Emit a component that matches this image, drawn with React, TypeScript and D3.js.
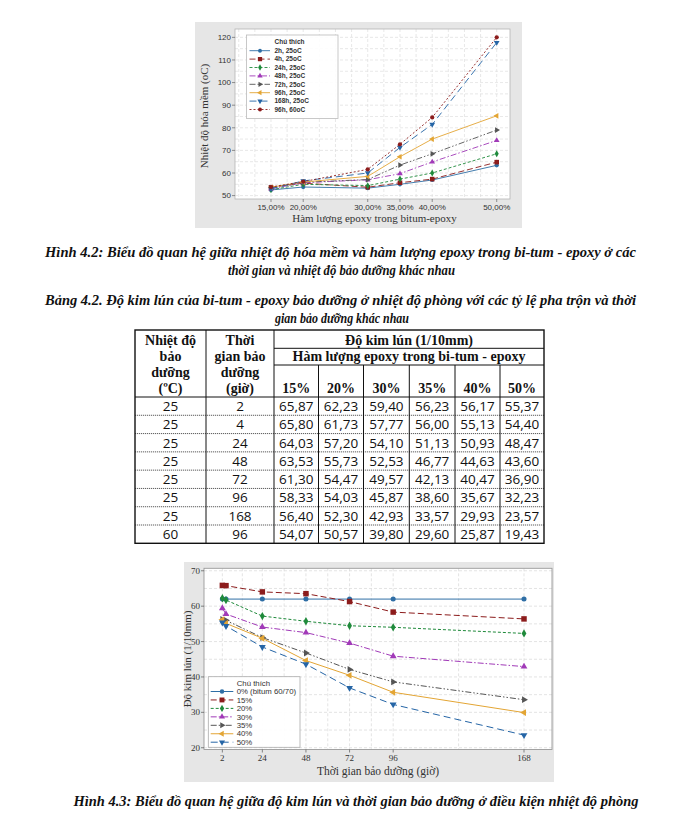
import React from 'react';
import * as d3 from 'd3';

// ---------- Figure 4.2 data (softening point vs epoxy content) ----------
const epoxyPct = [15, 20, 30, 35, 40, 50];
const epoxyTickLabels = ['15,00%', '20,00%', '30,00%', '35,00%', '40,00%', '50,00%'];
const softTicks = [50, 60, 70, 80, 90, 100, 110, 120];
const seriesNames1 = ['2h, 25oC', '4h, 25oC', '24h, 25oC', '48h, 25oC', '72h, 25oC', '96h, 25oC', '168h, 25oC', '96h, 60oC'];
const sp2h = [52.5, 53.8, 53.3, 55.0, 56.9, 63.4];
const sp4h = [53.7, 55.5, 53.7, 55.7, 57.3, 64.8];
const sp24h = [52.6, 55.0, 54.4, 57.3, 60.0, 68.5];
const sp48h = [53.0, 55.7, 57.0, 59.7, 64.9, 74.4];
const sp72h = [53.5, 55.9, 57.1, 63.5, 68.5, 79.0];
const sp96h = [53.7, 56.0, 58.5, 67.2, 75.0, 85.3];
const sp168h = [53.0, 56.5, 60.0, 71.3, 81.5, 117.7];
const sp96h60 = [53.8, 56.2, 61.6, 72.7, 84.6, 120.0];

// ---------- Table 4.2 data (penetration) ----------
const tableTemp = [25, 25, 25, 25, 25, 25, 25, 60];
const tableTime = [2, 4, 24, 48, 72, 96, 168, 96];
const tableHeaders = ['15%', '20%', '30%', '35%', '40%', '50%'];
const pen15 = [65.87, 65.80, 64.03, 63.53, 61.30, 58.33, 56.40, 54.07];
const pen20 = [62.23, 61.73, 57.20, 55.73, 54.47, 54.03, 52.30, 50.57];
const pen30 = [59.40, 57.77, 54.10, 52.53, 49.57, 45.87, 42.93, 39.80];
const pen35 = [56.23, 56.00, 51.13, 46.77, 42.13, 38.60, 33.57, 29.60];
const pen40 = [56.17, 55.13, 50.93, 44.63, 40.47, 35.67, 29.93, 25.87];
const pen50 = [55.37, 54.40, 48.47, 43.60, 36.90, 32.23, 23.57, 19.43];

// ---------- Figure 4.3 data ----------
const pen0 = [62, 62, 62, 62, 62, 62, 62]; // bitum 60/70
const seriesNames2 = ['0% (bitum 60/70)', '15%', '20%', '30%', '35%', '40%', '50%'];
const hourTicks = [2, 24, 48, 72, 96, 168];
const penTicks = [20, 30, 40, 50, 60, 70];

// ---------- texts ----------
const cap1a = 'Hình 4.2: Biểu đồ quan hệ giữa nhiệt độ hóa mềm và hàm lượng epoxy trong bi-tum - epoxy ở các';
const cap1b = 'thời gian và nhiệt độ bảo dưỡng khác nhau';
const tab1a = 'Bảng 4.2. Độ kim lún của bi-tum - epoxy bảo dưỡng ở nhiệt độ phòng với các tỷ lệ pha trộn và thời';
const tab1b = 'gian bảo dưỡng khác nhau';
const cap2 = 'Hình 4.3: Biểu đồ quan hệ giữa độ kim lún và thời gian bảo dưỡng ở điều kiện nhiệt độ phòng';

type Sty = { color: string; dash: string | null; sym: string };
const styles: Sty[] = [
  { color: '#2f6ea5', dash: null, sym: 'circle' },
  { color: '#8c1c1c', dash: '6,3', sym: 'square' },
  { color: '#1f8a3b', dash: '3,2', sym: 'diamond' },
  { color: '#a13ab8', dash: '6,2,1.5,2', sym: 'triUp' },
  { color: '#555555', dash: '6,2,1.5,2,1.5,2', sym: 'triRight' },
  { color: '#e3a534', dash: null, sym: 'triLeft' },
  { color: '#2565a6', dash: '7,4', sym: 'triDown' },
  { color: '#8c1c1c', dash: '2,2', sym: 'circle' },
];

function Marker({ x, y, s, size }: { x: number; y: number; s: Sty; size: number }) {
  const typeMap: any = {
    circle: d3.symbolCircle, square: d3.symbolSquare, diamond: d3.symbolDiamond,
    triUp: d3.symbolTriangle, triRight: d3.symbolTriangle, triLeft: d3.symbolTriangle, triDown: d3.symbolTriangle,
  };
  const rot: any = { triRight: 90, triLeft: -90, triDown: 180 };
  const d = d3.symbol(typeMap[s.sym], s.sym === 'square' ? size * 1.5 : size)() as string;
  return <path d={d} transform={`translate(${x},${y}) rotate(${rot[s.sym] || 0})`} fill={s.color} />;
}

const SANS = '"Liberation Sans", Arial, sans-serif';
const SERIF = '"Liberation Serif", "Times New Roman", serif';

function Chart1() {
  const fx0 = 195, fy0 = 22, fw = 327, fh = 206;
  const L = 235, R = 510, T = 29, B = 199;
  const x = d3.scaleLinear().domain([9.42, 52.06]).range([L, R]);
  const y = d3.scaleLinear().domain([48.5, 123.7]).range([B, T]);
  const series = [sp2h, sp4h, sp24h, sp48h, sp72h, sp96h, sp168h, sp96h60];
  const line = d3.line<number>().x((_, i) => x(epoxyPct[i])).y((v) => y(v));
  const gx = d3.range(10, 52.1, 2.5);
  const gy = d3.range(50, 123, 5);
  return (
    <g>
      <rect x={fx0} y={fy0} width={fw} height={fh} fill="#e6e6e6" />
      <rect x={L} y={T} width={R - L} height={B - T} fill="#fff" />
      {gx.map((v) => (
        <line key={'gx' + v} x1={x(v)} x2={x(v)} y1={T} y2={B} stroke="#dedede" strokeWidth={0.7} strokeDasharray="3,2" />
      ))}
      {gy.map((v) => (
        <line key={'gy' + v} x1={L} x2={R} y1={y(v)} y2={y(v)} stroke="#dedede" strokeWidth={0.7} strokeDasharray="3,2" />
      ))}
      <rect x={L} y={T} width={R - L} height={B - T} fill="none" stroke="#b5b5b5" strokeWidth={0.8} />
      {softTicks.map((v) => (
        <g key={'yt' + v}>
          <line x1={L - 3} x2={L} y1={y(v)} y2={y(v)} stroke="#666" strokeWidth={0.7} />
          <text x={L - 4} y={y(v)} dy="0.35em" textAnchor="end" fontFamily={SANS} fontSize={8} fill="#333">{v}</text>
        </g>
      ))}
      {epoxyPct.map((v, i) => (
        <g key={'xt' + v}>
          <line x1={x(v)} x2={x(v)} y1={B} y2={B + 3} stroke="#666" strokeWidth={0.7} />
          <text x={x(v)} y={B + 11} textAnchor="middle" fontFamily={SANS} fontSize={8} fill="#333">{epoxyTickLabels[i]}</text>
        </g>
      ))}
      <text x={(L + R) / 2 + 2} y={222} textAnchor="middle" fontFamily={SERIF} fontSize={11} fill="#333">Hàm lượng epoxy trong bitum-epoxy</text>
      <text transform={`translate(208,${(T + B) / 2 + 2}) rotate(-90)`} textAnchor="middle" fontFamily={SERIF} fontSize={11} fill="#333">Nhiệt độ hóa mềm (oC)</text>
      {series.map((s, k) => (
        <g key={'s' + k}>
          <path d={line(s) as string} fill="none" stroke={styles[k].color} strokeWidth={0.9} strokeDasharray={styles[k].dash || undefined} />
          {s.map((v, i) => <Marker key={i} x={x(epoxyPct[i])} y={y(v)} s={styles[k]} size={14} />)}
        </g>
      ))}
      <rect x={246.5} y={35} width={91.5} height={83.5} fill="#fff" fillOpacity={0.9} stroke="#bbb" strokeWidth={0.8} />
      <text x={274.5} y={44} fontFamily={SANS} fontSize={6.5} fontWeight="bold" fill="#333">Chú thích</text>
      {seriesNames1.map((n, k) => {
        const yy = 50.7 + k * 8.4;
        return (
          <g key={'lg' + k}>
            <line x1={249.5} x2={270} y1={yy} y2={yy} stroke={styles[k].color} strokeWidth={0.9} strokeDasharray={styles[k].dash || undefined} />
            <Marker x={260} y={yy} s={styles[k]} size={12} />
            <text x={274.5} y={yy} dy="0.35em" fontFamily={SANS} fontSize={6.5} fontWeight="bold" fill="#333">{n}</text>
          </g>
        );
      })}
    </g>
  );
}

function fmt(v: number) {
  return d3.format('.2f')(v).replace('.', ',');
}

function Table() {
  const colX = [135, 206, 274, 318.5, 363.5, 409.3, 455, 500, 544];
  const top = 330, r1 = 348.3, r2 = 365, hb = 397;
  const rowH = (543.3 - hb) / tableTime.length;
  const cols = [pen15, pen20, pen30, pen35, pen40, pen50];
  const hdr1 = ['Nhiệt độ', 'bảo', 'dưỡng', '(ºC)'];
  const hdr2 = ['Thời', 'gian bảo', 'dưỡng', '(giờ)'];
  const hy = [340.5, 356.5, 372.5, 388.5];
  const bottom = hb + rowH * tableTime.length;
  const DATA = '"Open Sans", sans-serif';
  return (
    <g>
      {hdr1.map((t, i) => (
        <text key={'h1' + i} x={(colX[0] + colX[1]) / 2} y={hy[i]} dy="0.35em" textAnchor="middle" fontFamily={SERIF} fontWeight="bold" fontSize={14} fill="#111">{t}</text>
      ))}
      {hdr2.map((t, i) => (
        <text key={'h2' + i} x={(colX[1] + colX[2]) / 2} y={hy[i]} dy="0.35em" textAnchor="middle" fontFamily={SERIF} fontWeight="bold" fontSize={14} fill="#111">{t}</text>
      ))}
      <text x={(colX[2] + colX[8]) / 2} y={hy[0]} dy="0.35em" textAnchor="middle" fontFamily={SERIF} fontWeight="bold" fontSize={14} fill="#111">Độ kim lún (1/10mm)</text>
      <text x={(colX[2] + colX[8]) / 2} y={hy[1]} dy="0.35em" textAnchor="middle" fontFamily={SERIF} fontWeight="bold" fontSize={14} fill="#111">Hàm lượng epoxy trong bi-tum - epoxy</text>
      {tableHeaders.map((h, i) => (
        <text key={'th' + i} x={(colX[i + 2] + colX[i + 3]) / 2} y={hy[3]} dy="0.35em" textAnchor="middle" fontFamily={SERIF} fontWeight="bold" fontSize={14} fill="#111">{h}</text>
      ))}
      {tableTime.map((t, r) => {
        const cy = hb + rowH * (r + 0.5);
        return (
          <g key={'r' + r}>
            <text x={(colX[0] + colX[1]) / 2} y={cy} dy="0.36em" textAnchor="middle" fontFamily={DATA} fontSize={13.5} fill="#111">{tableTemp[r]}</text>
            <text x={(colX[1] + colX[2]) / 2} y={cy} dy="0.36em" textAnchor="middle" fontFamily={DATA} fontSize={13.5} fill="#111">{t}</text>
            {cols.map((c, j) => (
              <text key={j} x={(colX[j + 2] + colX[j + 3]) / 2} y={cy} dy="0.36em" textAnchor="middle" fontFamily={DATA} fontSize={13.5} fill="#111">{fmt(c[r])}</text>
            ))}
          </g>
        );
      })}
      {d3.range(1, tableTime.length).map((r) => (
        <line key={'hl' + r} x1={colX[0]} x2={colX[8]} y1={hb + rowH * r} y2={hb + rowH * r} stroke="#333" strokeWidth={0.8} strokeDasharray="1.2,0.8" />
      ))}
      <line x1={colX[0]} x2={colX[8]} y1={hb} y2={hb} stroke="#111" strokeWidth={1} />
      <line x1={colX[2]} x2={colX[8]} y1={r1} y2={r1} stroke="#111" strokeWidth={1} />
      <line x1={colX[2]} x2={colX[8]} y1={r2} y2={r2} stroke="#111" strokeWidth={1} />
      {colX.slice(1, 8).map((cx, i) => (
        <line key={'vl' + i} x1={cx} x2={cx} y1={i >= 2 ? r2 : top} y2={bottom} stroke="#111" strokeWidth={1} />
      ))}
      <rect x={colX[0]} y={top} width={colX[8] - colX[0]} height={bottom - top} fill="none" stroke="#111" strokeWidth={1.4} />
    </g>
  );
}

function Chart2() {
  const fx0 = 184, fy0 = 562, fw = 370, fh = 220;
  const L = 204, R = 552, T = 568.3, B = 749.5;
  const x = d3.scaleLinear().domain([-8.1, 183.4]).range([L, R]);
  const y = d3.scaleLinear().domain([19.5, 70.7]).range([B, T]);
  const hours = tableTime.filter((_, i) => tableTemp[i] === 25);
  const pick = (c: number[]) => c.filter((_, i) => tableTemp[i] === 25);
  const series = [pen0, pick(pen15), pick(pen20), pick(pen30), pick(pen35), pick(pen40), pick(pen50)];
  const line = d3.line<number>().x((_, i) => x(hours[i])).y((v) => y(v));
  const minorX = hourTicks.slice(1).map((h, i) => (h + hourTicks[i]) / 2);
  const gy = d3.range(20, 71, 5);
  return (
    <g>
      <rect x={fx0} y={fy0} width={fw} height={fh} fill="#e6e6e6" />
      <rect x={L} y={T} width={R - L} height={B - T} fill="#fff" />
      {[...hourTicks, ...minorX].map((v) => (
        <line key={'gx' + v} x1={x(v)} x2={x(v)} y1={T} y2={B} stroke="#d8d8d8" strokeWidth={0.7} strokeDasharray="3,2" />
      ))}
      {gy.map((v) => (
        <line key={'gy' + v} x1={L} x2={R} y1={y(v)} y2={y(v)} stroke="#d8d8d8" strokeWidth={0.7} strokeDasharray="3,2" />
      ))}
      <rect x={L} y={T} width={R - L} height={B - T} fill="none" stroke="#9a9a9a" strokeWidth={0.9} />
      {penTicks.map((v) => (
        <g key={'yt' + v}>
          <line x1={L - 3} x2={L} y1={y(v)} y2={y(v)} stroke="#555" strokeWidth={0.7} />
          <text x={L - 4} y={y(v)} dy="0.35em" textAnchor="end" fontFamily={SERIF} fontSize={9} fill="#333">{v}</text>
        </g>
      ))}
      {hourTicks.map((v) => (
        <g key={'xt' + v}>
          <line x1={x(v)} x2={x(v)} y1={B} y2={B + 3} stroke="#555" strokeWidth={0.7} />
          <text x={x(v)} y={B + 11} textAnchor="middle" fontFamily={SERIF} fontSize={9} fill="#333">{v}</text>
        </g>
      ))}
      <text x={(L + R) / 2} y={775} textAnchor="middle" fontFamily={SERIF} fontSize={11.5} fill="#333">Thời gian bảo dưỡng (giờ)</text>
      <text transform={`translate(191,${(T + B) / 2}) rotate(-90)`} textAnchor="middle" fontFamily={SERIF} fontSize={11} fill="#333">Độ kim lún (1/10mm)</text>
      {series.map((s, k) => (
        <g key={'s' + k}>
          <path d={line(s) as string} fill="none" stroke={styles[k].color} strokeWidth={1} strokeDasharray={styles[k].dash || undefined} />
          {s.map((v, i) => <Marker key={i} x={x(hours[i])} y={y(v)} s={styles[k]} size={20} />)}
        </g>
      ))}
      <rect x={208.3} y={676.7} width={91.7} height={70.6} fill="#fff" fillOpacity={0.92} stroke="#aaa" strokeWidth={0.8} />
      <text x={236.7} y={685.5} fontFamily={SANS} fontSize={7.8} fill="#333">Chú thích</text>
      {seriesNames2.map((n, k) => {
        const yy = 691.5 + k * 8.45;
        return (
          <g key={'lg' + k}>
            <line x1={210.7} x2={233.3} y1={yy} y2={yy} stroke={styles[k].color} strokeWidth={1} strokeDasharray={styles[k].dash || undefined} />
            <Marker x={222} y={yy} s={styles[k]} size={16} />
            <text x={236.7} y={yy} dy="0.35em" fontFamily={SANS} fontSize={7.8} fill="#333">{n}</text>
          </g>
        );
      })}
    </g>
  );
}

export default function App() {
  const capStyle = { fontFamily: SERIF, fontWeight: 'bold' as const, fontStyle: 'italic' as const, fontSize: 14.5, fill: '#111' };
  return (
    <svg width={680} height={827} style={{ position: 'absolute', left: 0, top: 0, background: '#fff' }}>
      <rect width={680} height={827} fill="#fff" />
      <Chart1 />
      <text x={340.5} y={257} textAnchor="middle" textLength={591} lengthAdjust="spacingAndGlyphs" {...capStyle}>{cap1a}</text>
      <text x={341.5} y={275} textAnchor="middle" textLength={227} lengthAdjust="spacingAndGlyphs" {...capStyle}>{cap1b}</text>
      <text x={340.5} y={305} textAnchor="middle" textLength={591} lengthAdjust="spacingAndGlyphs" {...capStyle}>{tab1a}</text>
      <text x={342} y={323} textAnchor="middle" textLength={134} lengthAdjust="spacingAndGlyphs" {...capStyle}>{tab1b}</text>
      <Table />
      <Chart2 />
      <text x={356} y={806} textAnchor="middle" textLength={565} lengthAdjust="spacingAndGlyphs" {...capStyle}>{cap2}</text>
    </svg>
  );
}
